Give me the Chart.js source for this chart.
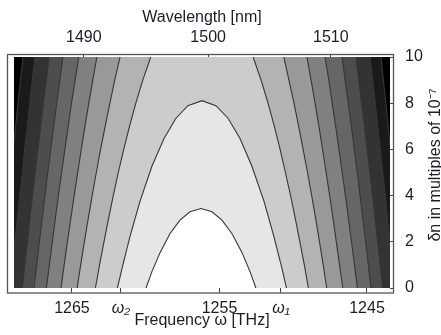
<!DOCTYPE html>
<html>
<head>
<meta charset="utf-8">
<script src="https://cdn.jsdelivr.net/npm/chart.js@4.4.1/dist/chart.umd.min.js"></script>
<style>
  html, body { margin: 0; padding: 0; background: #fff; }
</style>
</head>
<body>
<canvas id="contourChart" width="441" height="335"></canvas>
<script>
// delta n levels (multiples of 1e-7) at which the outer contours were read
const dnLevels = [0, 1, 2, 3, 4, 5, 6, 7, 8, 9, 10];

// inner contours close below the top of the plot: omega / dn pairs
const c1Omega = [1259.98, 1259.58, 1259.03, 1258.36, 1257.68, 1257.00, 1256.25, 1255.51, 1254.83, 1254.15, 1253.47, 1252.93, 1252.53];
const c1Dn = [0, 0.71, 1.53, 2.35, 2.94, 3.30, 3.44, 3.30, 2.94, 2.35, 1.53, 0.71, 0];
const c2Omega = [1261.92, 1261.61, 1261.07, 1260.39, 1259.58, 1258.76, 1257.95, 1257.14, 1256.19, 1255.24, 1254.42, 1253.61, 1252.80, 1251.98, 1251.31, 1250.76, 1250.46];
const c2Dn = [0, 0.84, 2.22, 3.75, 5.27, 6.47, 7.35, 7.89, 8.11, 7.89, 7.35, 6.47, 5.27, 3.75, 2.22, 0.84, 0];

// outer contours 3..10, omega on the high-frequency (left) side at each dn level
const outerLeft = [
  [1263.41, 1263.13, 1262.83, 1262.52, 1262.20, 1261.86, 1261.49, 1261.10, 1260.67, 1260.20, 1259.66],
  [1264.65, 1264.41, 1264.16, 1263.90, 1263.63, 1263.35, 1263.06, 1262.75, 1262.43, 1262.10, 1261.74],
  [1265.74, 1265.53, 1265.31, 1265.08, 1264.85, 1264.61, 1264.37, 1264.12, 1263.86, 1263.59, 1263.31],
  [1266.73, 1266.53, 1266.33, 1266.13, 1265.92, 1265.70, 1265.48, 1265.26, 1265.03, 1264.79, 1264.54],
  [1267.57, 1267.39, 1267.21, 1267.02, 1266.83, 1266.64, 1266.44, 1266.24, 1266.03, 1265.82, 1265.61],
  [1268.36, 1268.19, 1268.02, 1267.85, 1267.67, 1267.49, 1267.31, 1267.12, 1266.93, 1266.74, 1266.55],
  [1269.18, 1269.03, 1268.87, 1268.70, 1268.54, 1268.37, 1268.21, 1268.03, 1267.86, 1267.69, 1267.51],
  [1269.91, 1269.76, 1269.61, 1269.45, 1269.30, 1269.14, 1268.98, 1268.82, 1268.66, 1268.49, 1268.33]
];
// same contours on the low-frequency (right) side
const outerRight = [
  [1248.97, 1249.25, 1249.55, 1249.86, 1250.18, 1250.53, 1250.89, 1251.28, 1251.71, 1252.18, 1252.72],
  [1247.73, 1247.97, 1248.22, 1248.48, 1248.75, 1249.03, 1249.33, 1249.63, 1249.95, 1250.29, 1250.64],
  [1246.64, 1246.86, 1247.08, 1247.30, 1247.53, 1247.77, 1248.01, 1248.26, 1248.52, 1248.79, 1249.07],
  [1245.65, 1245.85, 1246.05, 1246.25, 1246.46, 1246.68, 1246.90, 1247.12, 1247.36, 1247.59, 1247.84],
  [1244.73, 1244.91, 1245.09, 1245.28, 1245.47, 1245.66, 1245.86, 1246.06, 1246.27, 1246.48, 1246.69],
  [1243.94, 1244.11, 1244.28, 1244.45, 1244.63, 1244.81, 1244.99, 1245.18, 1245.37, 1245.56, 1245.75],
  [1243.12, 1243.28, 1243.44, 1243.60, 1243.76, 1243.93, 1244.10, 1244.27, 1244.44, 1244.62, 1244.79],
  [1242.47, 1242.62, 1242.77, 1242.93, 1243.08, 1243.24, 1243.40, 1243.56, 1243.72, 1243.89, 1244.05]
];

// grey level of the band just inside contour n (index n-1), last one is outside everything
const bandColors = ['#ffffff', '#e6e6e6', '#cccccc', '#b3b3b3', '#999999', '#808080', '#666666', '#4d4d4d', '#333333', '#1a1a1a', '#000000'];

// axes
const omegaMax = 1268.93;
const omegaMin = 1243.44;
const freqTicks = [1265, 1261.68, 1255, 1250.83, 1245];
const freqLabels = ['1265', 'ω₂', '1255', 'ω₁', '1245'];
const wavelengthTicks = [1490, 1500, 1510];
const dnTicks = [0, 2, 4, 6, 8, 10];

const textColor = '#1c1c28';
Chart.defaults.font.family = "'Liberation Sans', Arial, sans-serif";
Chart.defaults.color = textColor;

function toPoints(xs, ys) {
    return xs.map((x, i) => ({ x: x, y: ys[i] }));
}

const datasets = [];

// filled regions, outermost first so the inner ones paint over them
for (let i = outerLeft.length - 1; i >= 0; i--) {
    const n = i + 3;
    const shape = toPoints(outerLeft[i], dnLevels)
        .concat(toPoints(outerRight[i].slice().reverse(), dnLevels.slice().reverse()));
    datasets.push({ data: shape, fill: 'shape', backgroundColor: bandColors[n - 1], borderWidth: 0, order: 20 + n });
}
datasets.push({ data: toPoints(c2Omega, c2Dn), fill: 'shape', backgroundColor: bandColors[1], borderWidth: 0, order: 22 });
datasets.push({ data: toPoints(c1Omega, c1Dn), fill: 'shape', backgroundColor: bandColors[0], borderWidth: 0, order: 21 });

// contour lines on top
const lineStyle = { fill: false, borderColor: '#363636', borderWidth: 1.1, order: 0 };
datasets.push(Object.assign({ data: toPoints(c1Omega, c1Dn) }, lineStyle));
datasets.push(Object.assign({ data: toPoints(c2Omega, c2Dn) }, lineStyle));
outerLeft.forEach((arr, i) => {
    datasets.push(Object.assign({ data: toPoints(arr, dnLevels) }, lineStyle));
    datasets.push(Object.assign({ data: toPoints(outerRight[i], dnLevels) }, lineStyle));
});

const framePlugin = {
    id: 'framePlugin',
    beforeDatasetsDraw(chart) {
        const { ctx, chartArea: a } = chart;
        ctx.save();
        ctx.fillStyle = bandColors[bandColors.length - 1];
        ctx.fillRect(a.left, a.top, a.right - a.left, a.bottom - a.top);
        ctx.restore();
    },
    afterDraw(chart) {
        const { ctx, chartArea: a } = chart;
        ctx.save();
        // frame sits a little outside the plotted region
        ctx.strokeStyle = '#555';
        ctx.lineWidth = 1.3;
        ctx.strokeRect(a.left - 6.5, a.top - 2.5, a.right - a.left + 10, a.bottom - a.top + 7.5);
        // right axis title, reading bottom to top
        ctx.translate(436, 165);
        ctx.rotate(-Math.PI / 2);
        ctx.fillStyle = textColor;
        ctx.font = "16px 'Liberation Sans', Arial, sans-serif";
        ctx.textAlign = 'center';
        ctx.textBaseline = 'middle';
        ctx.fillText('δn in multiples of 10⁻⁷', 0, 0);
        ctx.restore();
    }
};

new Chart(document.getElementById('contourChart'), {
    type: 'line',
    data: { datasets: datasets },
    options: {
        responsive: false,
        animation: false,
        events: [],
        layout: { padding: { left: 14, right: 0, top: 0, bottom: 0 } },
        elements: { point: { radius: 0 }, line: { tension: 0 } },
        plugins: { legend: { display: false }, tooltip: { enabled: false } },
        scales: {
            x: {
                type: 'linear',
                position: 'bottom',
                reverse: true,
                min: omegaMin,
                max: omegaMax,
                afterBuildTicks: scale => { scale.ticks = freqTicks.map(v => ({ value: v })); },
                afterFit: scale => { scale.height = 47; },
                ticks: {
                    autoSkip: false,
                    maxRotation: 0,
                    padding: 6,
                    callback: (value, index) => freqLabels[index],
                    font: c => ({ size: 16, style: (c.index === 1 || c.index === 3) ? 'italic' : 'normal' })
                },
                grid: { drawOnChartArea: false, drawTicks: true, tickLength: 5, color: '#444' },
                border: { display: false },
                title: { display: true, text: 'Frequency ω [THz]', font: { size: 16 }, padding: { top: 0, bottom: 5 } }
            },
            x2: {
                type: 'linear',
                position: 'top',
                reverse: true,
                min: omegaMin,
                max: omegaMax,
                afterBuildTicks: scale => {
                    scale.ticks = wavelengthTicks.map(nm => ({ value: 2 * Math.PI * 299792.458 / nm }));
                },
                afterFit: scale => { scale.height = 57; },
                ticks: {
                    autoSkip: false,
                    maxRotation: 0,
                    padding: 7,
                    callback: (value, index) => String(wavelengthTicks[index]),
                    font: { size: 16 }
                },
                grid: { drawOnChartArea: false, drawTicks: true, tickLength: 3, color: '#444' },
                border: { display: false },
                title: { display: true, text: 'Wavelength [nm]', font: { size: 16 }, padding: { top: 8, bottom: 0 } }
            },
            y: {
                type: 'linear',
                position: 'right',
                min: 0,
                max: 10,
                afterBuildTicks: scale => { scale.ticks = dnTicks.map(v => ({ value: v })); },
                afterFit: scale => { scale.width = 51; },
                ticks: { padding: 11, font: { size: 16 } },
                grid: { drawOnChartArea: false, drawTicks: true, tickLength: 4, color: '#444' },
                border: { display: false }
            }
        }
    },
    plugins: [framePlugin]
});
</script>
</body>
</html>
